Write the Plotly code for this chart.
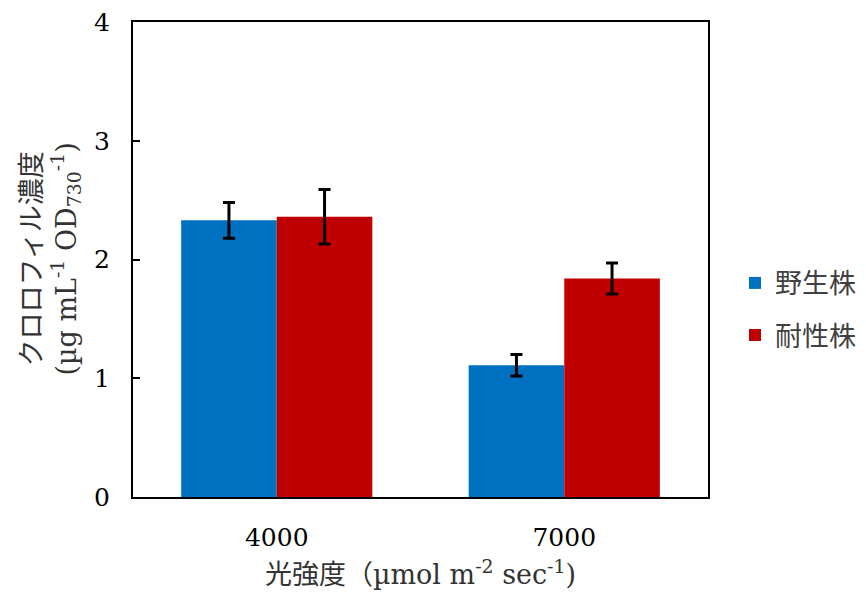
import plotly.graph_objects as go

# Light intensity categories (µmol m-2 sec-1)
light = ["4000", "7000"]

# Chlorophyll concentration (µg mL-1 OD730-1) and standard deviations
wild_mean = [2.33, 1.11]
wild_sd = [0.15, 0.09]
tolerant_mean = [2.36, 1.84]
tolerant_sd = [0.23, 0.13]

series_names = ["野生株", "耐性株"]
series_colors = ["#0070C0", "#C00000"]

SERIF = "DejaVu Serif, Noto Sans CJK JP, serif"
CJK_SANS = "Noto Sans CJK JP, sans-serif"

fig = go.Figure()
for i, (name, mean, sd, color) in enumerate(
    zip(series_names, [wild_mean, tolerant_mean], [wild_sd, tolerant_sd], series_colors)
):
    fig.add_trace(go.Bar(
        x=light, y=mean, name=name,
        marker=dict(color=color, line=dict(width=0)),
        error_y=dict(type="data", array=sd, visible=True,
                     color="black", thickness=3, width=6),
        legendgroup=f"g{i}",
    ))

fig.update_layout(
    width=866, height=594,
    margin=dict(l=133, r=158, t=22, b=97, autoexpand=False),
    paper_bgcolor="white", plot_bgcolor="white",
    barmode="group", bargap=0.335, bargroupgap=0,
    showlegend=True,
    legend=dict(
        x=1.047, xanchor="left", y=0.395, yanchor="middle",
        font=dict(family=CJK_SANS, size=27, color="#404040"),
        tracegroupgap=14, bgcolor="rgba(0,0,0,0)",
    ),
    xaxis=dict(
        type="category",
        showline=True, linecolor="black", linewidth=2, mirror=True,
        ticks="", showgrid=False,
        tickfont=dict(family=SERIF, size=25, color="black"),
        ticklabelstandoff=17,
        title=dict(
            text="光強度（µmol m<sup>-2</sup> sec<sup>-1</sup>)",
            font=dict(family=SERIF, size=27, color="#333333"),
            standoff=14,
        ),
    ),
    yaxis=dict(
        range=[0, 4], dtick=1,
        showline=True, linecolor="black", linewidth=2, mirror=True,
        ticks="inside", ticklen=7, tickwidth=2, tickcolor="black",
        showgrid=False, zeroline=False,
        tickfont=dict(family=SERIF, size=25, color="black"),
        ticklabelstandoff=16,
    ),
)

# Two-line rotated y-axis title
fig.add_annotation(
    text="クロロフィル濃度<br>(µg mL<sup>-1</sup> OD<sub>730</sub><sup>-1</sup>)",
    xref="paper", yref="paper", x=(50 - 133) / 575, y=0.5,
    xanchor="center", yanchor="middle", textangle=-90, showarrow=False,
    font=dict(family=SERIF, size=27, color="#333333"),
)

fig.write_html("out.html")
